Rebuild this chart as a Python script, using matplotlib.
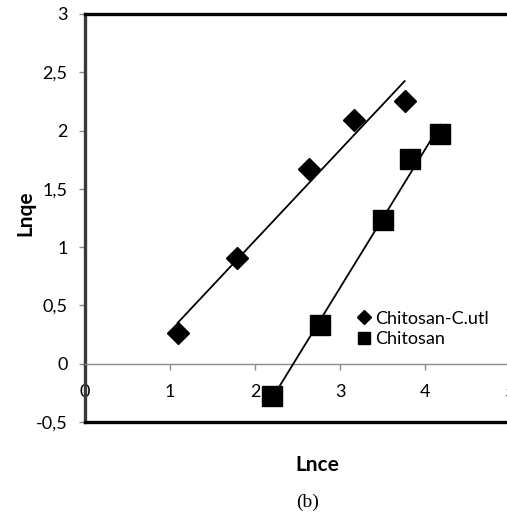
import numpy as np
import matplotlib
matplotlib.use("Agg")
import matplotlib.pyplot as plt
from matplotlib.ticker import FuncFormatter

# data (ln ce, ln qe)
x_cutl = [1.09, 1.79, 2.64, 3.16, 3.76]
y_cutl = [0.26, 0.91, 1.67, 2.09, 2.25]
x_chit = [2.20, 2.77, 3.51, 3.82, 4.18]
y_chit = [-0.28, 0.33, 1.23, 1.76, 1.97]
labels = ["Chitosan-C.utl", "Chitosan"]

plt.rcParams['font.family'] = ['Lato', 'DejaVu Sans']

W, H = 507, 515
fig = plt.figure(figsize=(W / 100, H / 100), dpi=100)
# plot area: x=0 at px 85, x=5 at px 510 (cut off), y=3 at px 14, y=-0.5 at px 422
ax = fig.add_axes([85 / W, 1 - 422 / H, 425 / W, 408 / H])
ax.set_xlim(0, 5)
ax.set_ylim(-0.5, 3)

# points
ax.plot(x_cutl, y_cutl, linestyle='none', marker='D', markersize=11.5,
        color='black', label=labels[0], zorder=4)
ax.plot(x_chit, y_chit, linestyle='none', marker='s', markersize=14.5,
        color='black', label=labels[1], zorder=4)

# linear trendlines
for xs, ys in [(x_cutl, y_cutl), (x_chit, y_chit)]:
    p = np.polyfit(xs, ys, 1)
    xx = np.array([min(xs), max(xs)])
    ax.plot(xx, np.polyval(p, xx), color='black', lw=1.3, zorder=3)

# frame
ax.spines['right'].set_visible(False)
ax.spines['top'].set_linewidth(2.4)
ax.spines['top'].set_color('black')
ax.spines['left'].set_linewidth(2.4)
ax.spines['left'].set_color('#3a3a3a')
ax.spines['bottom'].set_position(('data', 0))
ax.spines['bottom'].set_color('#8a8a8a')
ax.spines['bottom'].set_linewidth(1.0)
ax.axhline(-0.5, color='black', lw=2.4, clip_on=False, zorder=5)

ax.set_xticks([0, 1, 2, 3, 4, 5])
ax.set_yticks([-0.5, 0, 0.5, 1, 1.5, 2, 2.5, 3])
comma = FuncFormatter(lambda v, pos: ('%g' % v).replace('.', ','))
ax.xaxis.set_major_formatter(comma)
ax.yaxis.set_major_formatter(comma)
ax.tick_params(axis='x', direction='out', length=4.5, width=1, color='#8a8a8a',
               labelsize=13, pad=10)
ax.tick_params(axis='y', direction='out', length=4.5, width=1, color='#8a8a8a',
               labelsize=13, pad=8)
for t in ax.get_xticklabels() + ax.get_yticklabels():
    t.set_clip_on(False)

fig.text(25 / W, 1 - 213 / H, 'Lnqe', rotation=90, ha='center', va='center',
         fontsize=15, fontweight='bold')
fig.text(317 / W, 1 - 465 / H, 'Lnce', ha='center', va='center',
         fontsize=15, fontweight='bold')
fig.text(308 / W, 1 - 502 / H, '(b)', ha='center', va='center',
         fontsize=14, family='Liberation Serif')

ax.legend(loc='center left', bbox_to_anchor=(350 / W, 1 - 329 / H),
          bbox_transform=fig.transFigure, frameon=False, markerscale=0.6,
          handlelength=0.6, handletextpad=0.3, labelspacing=0.25,
          borderpad=0, fontsize=13)

fig.savefig('out.png', dpi=100)
